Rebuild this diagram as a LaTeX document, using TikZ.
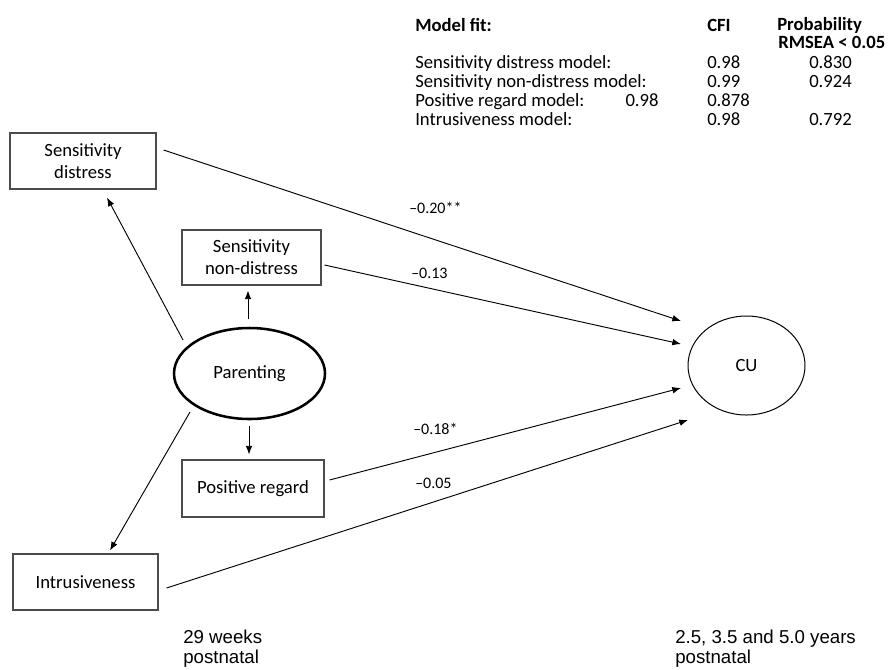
\documentclass[tikz,border=0pt]{standalone}
\usepackage{fontspec}
\setmainfont{Carlito}
\newfontfamily\arialfont{Liberation Sans}
\usetikzlibrary{arrows.meta}
\usetikzlibrary{shapes.geometric}

\begin{document}
\begin{tikzpicture}[x=0.75pt,y=-0.75pt,
  every node/.style={font=\fontsize{14}{16.5}\selectfont, inner sep=0pt},
  var/.style={draw=black!70, line width=0.8pt, align=center},
  arr/.style={line width=0.7pt, -{Latex[length=6.5pt,width=5pt]}},
  coef/.style={anchor=west, font=\fontsize{12}{14}\selectfont},
  fit/.style={anchor=base west},
  head/.style={anchor=base west, font=\fontsize{14}{16.5}\selectfont\bfseries},
  wave/.style={anchor=north west, align=left, font=\arialfont\fontsize{14}{15}\selectfont}]
\useasboundingbox (0,0) rectangle (889,669);

% model fit table
\node[head] (fit0) at (415,31.5) {Model fit:};
\node[head] (cfi0) at (707,31.5) {CFI};
\node[head, anchor=north west, align=left, font=\fontsize{14}{13.5}\selectfont\bfseries] (prob0) at (777,17.5) {Probability\\\hspace{0.75pt}RMSEA < 0.05};
\node[fit] (fit1) at (415,68) {Sensitivity distress model:};
\node[fit] (fit2) at (415,87) {Sensitivity non-distress model:};
\node[fit] (fit3) at (415,106) {Positive regard model:\hspace{2.2em}0.98};
\node[fit] (fit4) at (415,125) {Intrusiveness model:};
\node[fit] (cfi1) at (707,68) {0.98};
\node[fit] (cfi2) at (707,87) {0.99};
\node[fit] (cfi3) at (707,106) {0.878};
\node[fit] (cfi4) at (707,125) {0.98};
\node[fit] (prob1) at (809,68) {0.830};
\node[fit] (prob2) at (809,87) {0.924};
\node[fit] (prob4) at (809,125) {0.792};

% measures
\node[var, minimum width=109.5pt, minimum height=42pt] (sd) at (83,161) {Sensitivity\\distress};
\node[var, minimum width=104.25pt, minimum height=41.25pt] (snd) at (251.5,257.5) {Sensitivity\\non-distress};
\node[var, minimum width=106.5pt, minimum height=42.75pt] (pr) at (253,488.5) {Positive regard};
\node[var, minimum width=108.75pt, minimum height=42pt] (intr) at (85.5,582) {Intrusiveness};
\node[draw, ellipse, line width=1.9pt, minimum width=113.25pt, minimum height=68.25pt] (par) at (249.5,373.5) {Parenting};
\node[draw, ellipse, line width=0.75pt, minimum width=87.75pt, minimum height=74.25pt] (cu) at (746.5,365.5) {CU};

% loadings
\draw[arr] ([shift={(-66.5,-33.5)}]par.center) to[] ([shift={(24,8)}]sd.south);
\draw[arr] ([shift={(-1.5,-8)}]par.north) to[] ([shift={(-3.5,5)}]snd.south);
\draw[arr] ([shift={(-0.5,6)}]par.south) to[] ([shift={(-4,-5)}]pr.north);
\draw[arr] ([shift={(-59.5,38.5)}]par.center) to[] ([shift={(24.5,-3)}]intr.north);

% paths to CU
\draw[arr] ([shift={(7,-11)}]sd.east) to[] ([shift={(-65.5,-44.5)}]cu.center);
\draw[arr] ([shift={(3,7.5)}]snd.east) to[] ([shift={(-65.5,-21.5)}]cu.center);
\draw[arr] ([shift={(5,-8.5)}]pr.east) to[] ([shift={(-65.5,22.5)}]cu.center);
\draw[arr] ([shift={(8,6)}]intr.east) to[] ([shift={(-58.5,54.5)}]cu.center);

\node[coef] (c1) at (409,208) {–0.20**};
\node[coef] (c2) at (411,273) {–0.13};
\node[coef] (c3) at (413,429) {–0.18*};
\node[coef] (c4) at (415,483) {–0.05};

% time points
\node[wave] (t1) at (183,630) {29 weeks\\postnatal};
\node[wave] (t2) at (675,630) {2.5, 3.5 and 5.0 years\\postnatal};
\end{tikzpicture}
\end{document}
